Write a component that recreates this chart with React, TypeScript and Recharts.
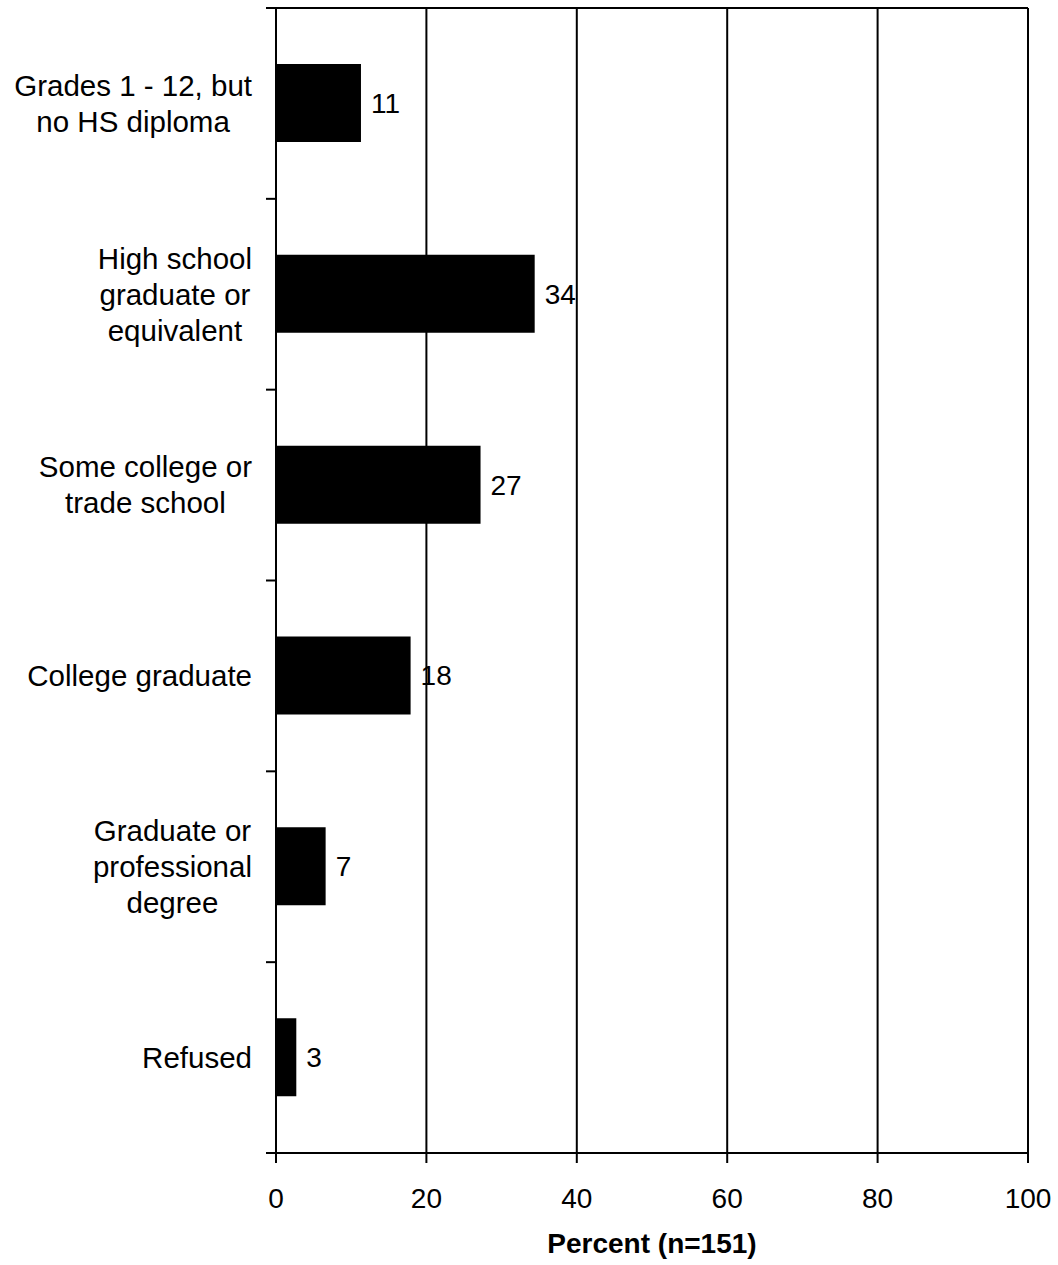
import React from 'react';
import { BarChart, Bar, XAxis, YAxis, CartesianGrid, LabelList, Label } from 'recharts';

const categories: string[] = [
  'Grades 1 - 12, but\nno HS diploma',
  'High school\ngraduate or\nequivalent',
  'Some college or\ntrade school',
  'College graduate',
  'Graduate or\nprofessional\ndegree',
  'Refused',
];
const percents: number[] = [11.3, 34.4, 27.2, 17.9, 6.6, 2.7];
const xTicks: number[] = [0, 20, 40, 60, 80, 100];
const xLabel = 'Percent (n=151)';

const data = categories.map((c, i) => ({ cat: c, value: percents[i] }));

const FONT = '"Liberation Sans", Arial, Helvetica, sans-serif';
const FS = 28;
const CAT_FS = 29.5;
const LINE_H = 36;

const CHART_W = 1058;
const CHART_H = 1265;
const MARGIN = { top: 7, right: 30, bottom: 0, left: 0 };
const TOP_AXIS_H = 1;
const X_AXIS_H = 112;
const Y_AXIS_W = 276;
const TICK_MARGIN = 24;
const TICK_LEN = 10;
const PLOT_H = CHART_H - MARGIN.top - MARGIN.bottom - TOP_AXIS_H - X_AXIS_H;
const BAND = PLOT_H / categories.length;

let ctx: CanvasRenderingContext2D | null = null;
function measure(s: string): number {
  if (!ctx) {
    const c = document.createElement('canvas');
    ctx = c.getContext('2d');
  }
  if (!ctx) return s.length * CAT_FS * 0.5;
  ctx.font = `${CAT_FS}px ${FONT}`;
  return ctx.measureText(s).width;
}

const CatTick = (props: any) => {
  const { x, y, payload, index } = props;
  const lines: string[] = String(payload.value).split('\n');
  const maxW = Math.max(...lines.map(measure));
  const cx = x - maxW / 2;
  const n = lines.length;
  const axisX = x + TICK_MARGIN;
  const isLast = index === categories.length - 1;
  return (
    <g>
      <line x1={axisX - TICK_LEN} x2={axisX} y1={y - BAND / 2} y2={y - BAND / 2} stroke="#000" strokeWidth={2} />
      {isLast && (
        <line x1={axisX - TICK_LEN} x2={axisX} y1={y + BAND / 2} y2={y + BAND / 2} stroke="#000" strokeWidth={2} />
      )}
      <text x={cx} y={y} textAnchor="middle" fill="#000" fontSize={CAT_FS} fontFamily={FONT}>
        {lines.map((l, i) => (
          <tspan key={i} x={cx} y={y + (i - (n - 1) / 2) * LINE_H + CAT_FS * 0.35}>
            {l}
          </tspan>
        ))}
      </text>
    </g>
  );
};

export default function App() {
  return (
    <div style={{ position: 'absolute', left: 0, top: 0, fontFamily: FONT, background: '#fff' }}>
      <BarChart width={CHART_W} height={CHART_H} data={data} layout="vertical" margin={MARGIN}>
        <CartesianGrid horizontal={false} stroke="#000" strokeWidth={2} />
        <XAxis
          type="number"
          domain={[0, 100]}
          ticks={xTicks}
          tickSize={10}
          tickMargin={25}
          height={X_AXIS_H}
          stroke="#000"
          strokeWidth={2}
          tick={{ fill: '#000', fontSize: FS, fontFamily: FONT }}
          allowDataOverflow
        >
          <Label
            value={xLabel}
            position="insideBottom"
            offset={12}
            style={{ fill: '#000', fontSize: FS, fontWeight: 'bold', fontFamily: FONT }}
          />
        </XAxis>
        <XAxis
          xAxisId="top"
          orientation="top"
          type="number"
          domain={[0, 100]}
          ticks={xTicks}
          height={TOP_AXIS_H}
          tick={false}
          tickLine={false}
          stroke="#000"
          strokeWidth={2}
          allowDataOverflow
        />
        <YAxis
          type="category"
          dataKey="cat"
          width={Y_AXIS_W}
          stroke="#000"
          strokeWidth={2}
          tickLine={false}
          tickSize={0}
          tickMargin={TICK_MARGIN}
          tick={<CatTick />}
          interval={0}
        />
        <Bar dataKey="value" fill="#000" barSize={78} isAnimationActive={false}>
          <LabelList
            dataKey="value"
            position="right"
            offset={10}
            formatter={(v: any) => Math.round(Number(v))}
            style={{ fill: '#000', fontSize: FS, fontFamily: FONT }}
          />
        </Bar>
      </BarChart>
    </div>
  );
}
